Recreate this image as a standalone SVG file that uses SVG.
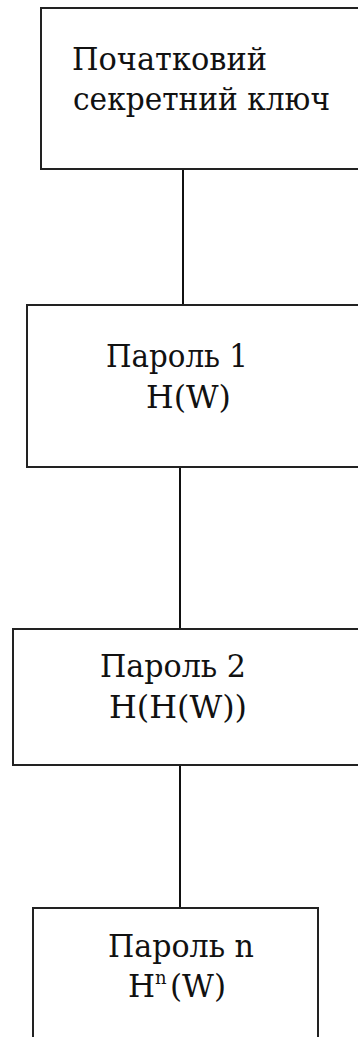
<svg xmlns="http://www.w3.org/2000/svg" width="358" height="1037" viewBox="0 0 358 1037">
<style>
.box{fill:#fff;stroke:#222;stroke-width:2}
.ln{stroke:#111;stroke-width:2;fill:none}
.t{font-family:"DejaVu Serif",serif;font-size:31px;fill:#111}
</style>
<rect width="358" height="1037" fill="#fff"/>
<g id="connectors">
<line class="ln" x1="183" y1="169" x2="183" y2="305"/>
<line class="ln" x1="180" y1="467" x2="180" y2="629"/>
<line class="ln" x1="180" y1="765" x2="180" y2="908"/>
</g>
<g id="node1">
<rect class="box" x="41" y="8" width="330" height="161"/>
<text class="t" x="72" y="70" textLength="195" lengthAdjust="spacingAndGlyphs">Початковий</text>
<text class="t" x="73" y="110" textLength="257" lengthAdjust="spacingAndGlyphs">секретний ключ</text>
</g>
<g id="node2">
<rect class="box" x="27" y="305" width="340" height="162"/>
<text class="t" x="106" y="367" textLength="142" lengthAdjust="spacingAndGlyphs">Пароль 1</text>
<text class="t" x="146" y="408" textLength="85" lengthAdjust="spacingAndGlyphs">H(W)</text>
</g>
<g id="node3">
<rect class="box" x="13" y="629" width="360" height="136"/>
<text class="t" x="100" y="677" textLength="146" lengthAdjust="spacingAndGlyphs">Пароль 2</text>
<text class="t" x="109" y="718" textLength="138" lengthAdjust="spacingAndGlyphs">H(H(W))</text>
</g>
<g id="node4">
<rect class="box" x="33" y="908" width="285" height="140"/>
<text class="t" x="108" y="957" textLength="146" lengthAdjust="spacingAndGlyphs">Пароль n</text>
<text class="t" x="128" y="997">H<tspan font-size="18" dy="-13">n</tspan><tspan dy="13" x="170">(W)</tspan></text>
</g>
</svg>
